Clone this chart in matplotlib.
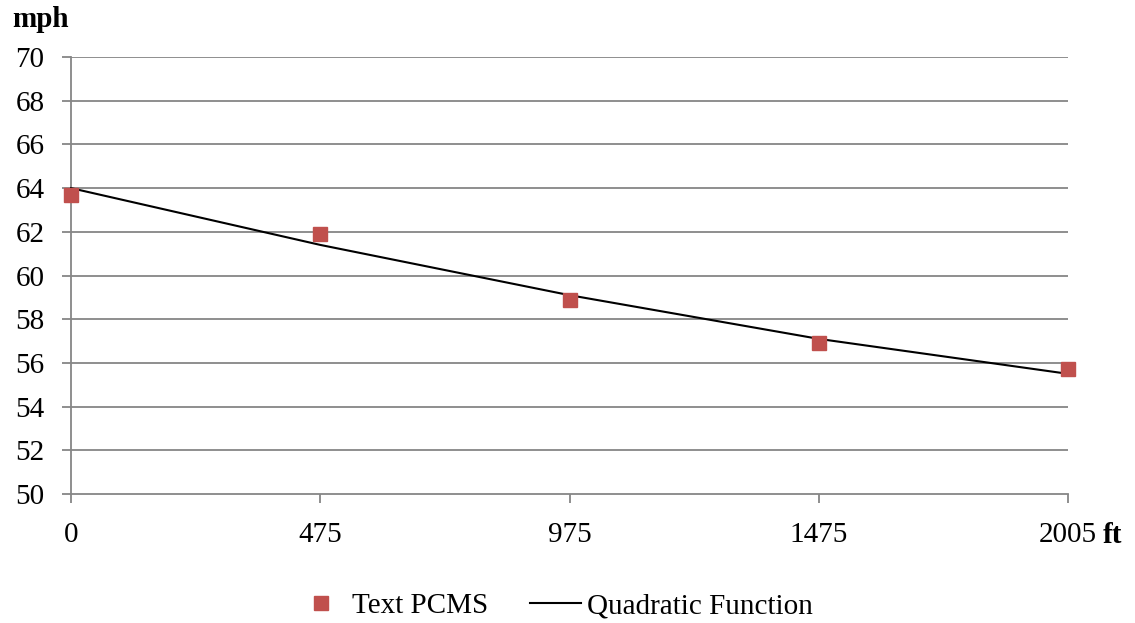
import matplotlib
matplotlib.use("Agg")
import matplotlib.pyplot as plt
from matplotlib.lines import Line2D

categories = ["0", "475", "975", "1475", "2005"]
pcms_values = [63.7, 61.9, 58.9, 56.9, 55.7]
quadratic_values = [64.0, 61.4, 59.1, 57.1, 55.5]
y_ticks = [50, 52, 54, 56, 58, 60, 62, 64, 66, 68, 70]

plt.rcParams['font.family'] = ['Liberation Serif', 'DejaVu Serif']

FS = 21
fig = plt.figure(figsize=(11.35, 6.23), dpi=100)
ax = fig.add_axes([71/1135, 1-494/623, (1068-71)/1135, (494-57)/623])

xpos = list(range(len(categories)))
grid_c = "#868686"
for y in y_ticks[1:]:
    ax.axhline(y, color=grid_c, lw=1.3, zorder=1)

ax.plot(xpos, quadratic_values, color="black", lw=1.5, zorder=3,
        label="Quadratic Function", clip_on=False)
ax.plot(xpos, pcms_values, ls="none", marker="s", ms=10.5, color="#C0504D",
        mec="#C0504D", zorder=4, label="Text PCMS", clip_on=False)

ax.set_xlim(0, len(categories) - 1)
ax.set_ylim(50, 70)
ax.set_yticks(y_ticks)
ax.set_yticklabels([str(v) for v in y_ticks])
ax.set_xticks(xpos)
ax.set_xticklabels(categories)

for s in ["top", "right"]:
    ax.spines[s].set_visible(False)
for s in ["left", "bottom"]:
    ax.spines[s].set_color(grid_c)
    ax.spines[s].set_linewidth(1.3)

ax.tick_params(axis="y", length=6.5, width=1.3, color=grid_c, labelsize=FS, pad=12.5)
ax.tick_params(axis="x", length=6.5, width=1.3, color=grid_c, labelsize=FS, pad=14)
for lbl in ax.get_yticklabels() + ax.get_xticklabels():
    lbl.set_color("black")

fig.text(12/1135, 1-27/623, "mph", fontsize=FS, fontweight="bold", ha="left", va="baseline")
fig.text(1103/1135, 1-543/623, "ft", fontsize=FS, fontweight="bold", ha="left", va="baseline")

handles = [
    Line2D([], [], ls="none", marker="s", ms=10.5, color="#C0504D"),
    Line2D([], [], color="black", lw=1.5),
]
fig.legend(handles, ["Text PCMS", "Quadratic Function"], loc="center",
           bbox_to_anchor=(554/1135, 1-606/623), ncol=2, frameon=False,
           fontsize=FS, handlelength=1.75, columnspacing=1.45, handletextpad=0.2,
           borderpad=0.1)

fig.savefig("out.png", dpi=100)
